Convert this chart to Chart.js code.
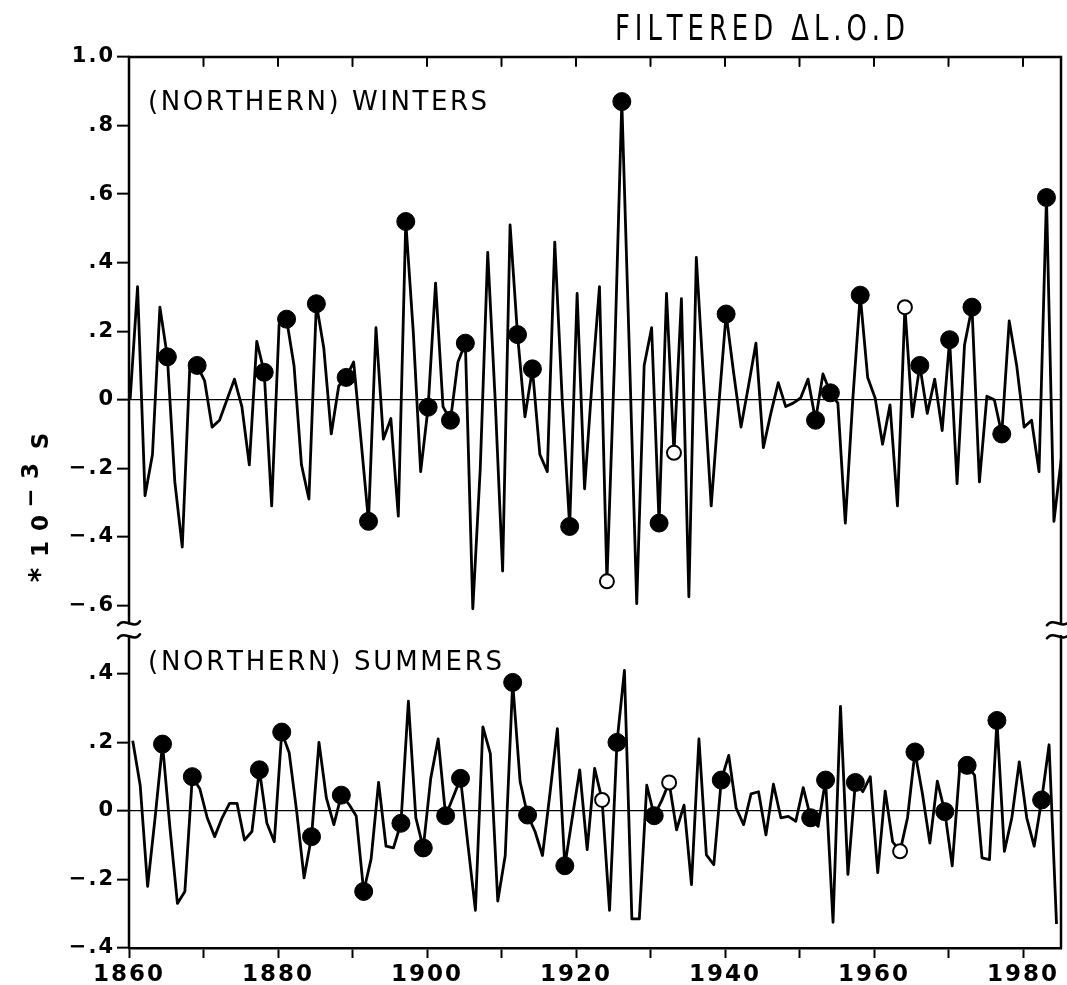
<!DOCTYPE html>
<html>
<head>
<meta charset="utf-8">
<script src="https://cdn.jsdelivr.net/npm/chart.js@4.4.1/dist/chart.umd.min.js"></script>
<style>
  html, body { margin: 0; padding: 0; background: #fff; }
  #wrap { width: 1067px; height: 985px; }
</style>
</head>
<body>
<div id="wrap"><canvas id="chart_filteredLod"></canvas></div>
<script>
// filtered delta L.O.D, units of 1e-3 s, one value per year
const firstYear = 1860;

const winterValues = [
  0.0, 0.33, -0.28, -0.16, 0.27, 0.125, -0.24, -0.43, 0.09, 0.10,
  0.055, -0.08, -0.06, 0.0, 0.06, -0.02, -0.19, 0.17, 0.08, -0.31,
  0.22, 0.235, 0.1, -0.19, -0.29, 0.28, 0.15, -0.1, 0.04, 0.065,
  0.11, -0.12, -0.355, 0.21, -0.115, -0.055, -0.34, 0.52, 0.2, -0.21,
  -0.022, 0.34, -0.02, -0.06, 0.11, 0.165, -0.61, -0.2, 0.43, 0.0,
  -0.5, 0.51, 0.19, -0.05, 0.09, -0.16, -0.21, 0.46, 0.0, -0.37,
  0.31, -0.26, 0.05, 0.33, -0.53, 0.1, 0.87, 0.15, -0.595, 0.1,
  0.21, -0.36, 0.31, -0.155, 0.295, -0.575, 0.415, 0.046, -0.31, -0.02,
  0.25, 0.08, -0.08, 0.04, 0.165, -0.14, -0.04, 0.05, -0.02, -0.01,
  0.005, 0.06, -0.06, 0.075, 0.02, -0.01, -0.36, 0.0, 0.305, 0.065,
  0.005, -0.13, -0.015, -0.31, 0.27, -0.05, 0.1, -0.04, 0.06, -0.09,
  0.175, -0.245, 0.16, 0.27, -0.24, 0.01, 0.0, -0.1, 0.23, 0.1,
  -0.08, -0.06, -0.21, 0.59, -0.355, -0.17
];

const summerValues = [
  0.205, 0.075, -0.22, -0.02, 0.195, -0.05, -0.27, -0.235, 0.10, 0.065,
  -0.02, -0.075, -0.02, 0.022, 0.022, -0.085, -0.06, 0.12, -0.035, -0.09,
  0.23, 0.17, 0.0, -0.195, -0.075, 0.2, 0.037, -0.04, 0.046, 0.02,
  -0.015, -0.235, -0.14, 0.083, -0.103, -0.108, -0.036, 0.32, -0.02, -0.108,
  0.095, 0.21, -0.014, 0.04, 0.095, -0.1, -0.29, 0.245, 0.167, -0.263,
  -0.13, 0.375, 0.085, -0.012, -0.06, -0.13, 0.05, 0.24, -0.16, -0.02,
  0.12, -0.113, 0.124, 0.032, -0.29, 0.2, 0.41, -0.315, -0.315, 0.075,
  -0.014, 0.03, 0.083, -0.055, 0.017, -0.215, 0.21, -0.128, -0.157, 0.09,
  0.162, 0.008, -0.04, 0.05, 0.056, -0.07, 0.078, -0.02, -0.016, -0.03,
  0.068, -0.02, -0.045, 0.09, -0.325, 0.305, -0.185, 0.083, 0.056, 0.1,
  -0.18, 0.058, -0.09, -0.118, -0.02, 0.172, 0.05, -0.094, 0.087, -0.002,
  -0.16, 0.124, 0.133, 0.104, -0.137, -0.142, 0.264, -0.118, -0.02, 0.143,
  -0.02, -0.103, 0.032, 0.193, -0.33
];

const winterFilled = [1865, 1869, 1878, 1881, 1885, 1889, 1892, 1897, 1900, 1903, 1905, 1912, 1914,
  1919, 1926, 1931, 1940, 1952, 1954, 1958, 1966, 1970, 1973, 1977, 1983];
const winterOpen = [1924, 1933, 1964];
const summerFilled = [1864, 1868, 1877, 1880, 1884, 1888, 1891, 1896, 1899, 1902, 1904, 1911, 1913,
  1918, 1925, 1930, 1939, 1951, 1953, 1957, 1965, 1969, 1972, 1976, 1982];
const summerOpen = [1923, 1932, 1963];

const xLabelYears = [1860, 1880, 1900, 1920, 1940, 1960, 1980];

// both panels share one y scale: winters are lifted by PANEL_SHIFT, the break sits at BREAK_AT
const PANEL_SHIFT = 1.2;
const BREAK_AT = 0.53;
const WINTER_X_OFFSET = 0.15;
const SUMMER_X_OFFSET = 0.5;

function yLabel(v) {
  let t = v > BREAK_AT ? v - PANEL_SHIFT : v;
  t = Math.round(t * 10) / 10;
  if (t === 0) return '0';
  let s = Math.abs(t).toFixed(1);
  if (Math.abs(t) < 1) s = s.replace(/^0/, '');
  return (t < 0 ? '\u2212' : '') + s;
}

function isZeroLine(v) {
  return Math.abs(v) < 1e-6 || Math.abs(v - PANEL_SHIFT) < 1e-6;
}

function markerRadius(filled, open) {
  return ctx => {
    const yr = firstYear + ctx.dataIndex;
    if (filled.includes(yr)) return 9;
    if (open.includes(yr)) return 7;
    return 0;
  };
}
function markerFill(open) {
  return ctx => open.includes(firstYear + ctx.dataIndex) ? '#fff' : '#000';
}
function markerBorder(open) {
  return ctx => open.includes(firstYear + ctx.dataIndex) ? 2 : 1;
}

function drawSpaced(ctx, text, x, y, width, font) {
  ctx.font = font;
  const chars = [...text];
  const ws = chars.map(c => ctx.measureText(c).width);
  const natural = ws.reduce((a, b) => a + b, 0);
  const gap = (width - natural) / (chars.length - 1);
  let cx = x;
  chars.forEach((c, i) => { ctx.fillText(c, cx, y); cx += ws[i] + gap; });
}

const decorPlugin = {
  id: 'lodDecor',
  beforeDraw: (chart) => {
    const ctx = chart.ctx;
    ctx.save();
    ctx.fillStyle = '#fff';
    ctx.fillRect(0, 0, chart.width, chart.height);
    ctx.restore();
    ctx.letterSpacing = '2px';
  },
  afterDraw: (chart) => {
    const ctx = chart.ctx;
    ctx.letterSpacing = '0px';
    const a = chart.chartArea;
    const x = chart.scales.x;
    const y = chart.scales.y;
    const yb = y.getPixelForValue(BREAK_AT);
    ctx.save();
    ctx.strokeStyle = '#000';
    ctx.fillStyle = '#000';
    ctx.lineWidth = 2.5;
    ctx.lineCap = 'round';

    // left axis and right frame, both broken at the panel gap
    [[a.left, 0], [a.right, -3]].forEach(([px, shift]) => {
      ctx.beginPath();
      ctx.moveTo(px, a.top); ctx.lineTo(px, yb - 6);
      ctx.moveTo(px, yb + 7); ctx.lineTo(px, a.bottom);
      ctx.stroke();
      [yb - 6, yb + 7].forEach(ty => {
        const cx = px + shift;
        ctx.beginPath();
        ctx.moveTo(cx - 11, ty + 2);
        ctx.bezierCurveTo(cx - 5, ty - 7, cx + 5, ty + 7, cx + 11, ty - 2);
        ctx.stroke();
      });
    });

    // top frame with inward ticks
    ctx.beginPath();
    ctx.moveTo(a.left, a.top); ctx.lineTo(a.right, a.top);
    ctx.stroke();
    ctx.lineWidth = 2;
    x.ticks.forEach(t => {
      const px = x.getPixelForValue(t.value);
      if (px > a.left + 2 && px < a.right - 2) {
        ctx.beginPath();
        ctx.moveTo(px, a.top); ctx.lineTo(px, a.top + 9);
        ctx.stroke();
      }
    });

    // title (narrow lettering) and panel labels
    ctx.textAlign = 'left';
    ctx.textBaseline = 'alphabetic';
    ctx.save();
    ctx.translate(615, 40);
    ctx.scale(0.72, 1);
    drawSpaced(ctx, 'FILTERED \u0394L.O.D', 0, 0, 290 / 0.72, "36px 'DejaVu Sans', sans-serif");
    ctx.restore();
    drawSpaced(ctx, '(NORTHERN) WINTERS', 148, 110, 339, "26px 'DejaVu Sans', sans-serif");
    drawSpaced(ctx, '(NORTHERN) SUMMERS', 148, 670, 354, "26px 'DejaVu Sans', sans-serif");

    // rotated unit label: *10^-3 S
    const unitChars = [
      ['*', 575, 49, "bold 28px 'DejaVu Sans', sans-serif"],
      ['1', 549, 48, "bold 23px 'DejaVu Sans', sans-serif"],
      ['0', 523, 48, "bold 23px 'DejaVu Sans', sans-serif"],
      ['\u2212', 498, 38, "bold 23px 'DejaVu Sans', sans-serif"],
      ['3', 471, 38, "bold 23px 'DejaVu Sans', sans-serif"],
      ['S', 441, 48, "bold 23px 'DejaVu Sans', sans-serif"]
    ];
    ctx.textAlign = 'center';
    unitChars.forEach(([ch, cy, bx, font]) => {
      ctx.save();
      ctx.font = font;
      ctx.translate(bx, cy);
      ctx.rotate(-Math.PI / 2);
      ctx.fillText(ch, 0, 0);
      ctx.restore();
    });
    ctx.restore();
  }
};

const chart_filteredLod = new Chart(document.getElementById('chart_filteredLod'), {
  type: 'line',
  data: {
    datasets: [
      {
        label: 'Winters',
        data: winterValues.map((v, i) => ({x: firstYear + i + WINTER_X_OFFSET, y: v + PANEL_SHIFT})),
        borderColor: '#000',
        borderWidth: 2.8,
        borderJoinStyle: 'round',
        tension: 0,
        pointRadius: markerRadius(winterFilled, winterOpen),
        pointHoverRadius: markerRadius(winterFilled, winterOpen),
        pointBackgroundColor: markerFill(winterOpen),
        pointBorderColor: '#000',
        pointBorderWidth: markerBorder(winterOpen)
      },
      {
        label: 'Summers',
        data: summerValues.map((v, i) => ({x: firstYear + i + SUMMER_X_OFFSET, y: v})),
        borderColor: '#000',
        borderWidth: 2.8,
        borderJoinStyle: 'round',
        tension: 0,
        pointRadius: markerRadius(summerFilled, summerOpen),
        pointHoverRadius: markerRadius(summerFilled, summerOpen),
        pointBackgroundColor: markerFill(summerOpen),
        pointBorderColor: '#000',
        pointBorderWidth: markerBorder(summerOpen)
      }
    ]
  },
  options: {
    animation: false,
    responsive: true,
    maintainAspectRatio: false,
    events: [],
    layout: { padding: { left: 0, right: 6, top: 57, bottom: 0 } },
    plugins: {
      legend: { display: false },
      tooltip: { enabled: false },
      title: { display: false }
    },
    scales: {
      x: {
        type: 'linear',
        min: 1860,
        max: 1985.1,
        afterFit: (s) => { s.height = 37; },
        ticks: {
          stepSize: 10,
          includeBounds: false,
          autoSkip: false,
          maxRotation: 0,
          padding: 3,
          color: '#000',
          font: { family: "'DejaVu Sans', sans-serif", size: 23, weight: 'bold' },
          callback: (value) => xLabelYears.includes(value) ? String(value) : ''
        },
        grid: { drawOnChartArea: false, tickLength: 10, tickWidth: 2, tickColor: '#000' },
        border: { display: true, color: '#000', width: 2.5 }
      },
      y: {
        type: 'linear',
        min: -0.4,
        max: 2.2,
        afterFit: (s) => { s.width = 129; },
        ticks: {
          stepSize: 0.2,
          includeBounds: false,
          autoSkip: false,
          padding: 2,
          color: '#000',
          font: { family: "'DejaVu Sans', sans-serif", size: 21, weight: 'bold' },
          callback: (value) => yLabel(value)
        },
        grid: {
          drawOnChartArea: true,
          color: (ctx) => (ctx.tick && isZeroLine(ctx.tick.value)) ? '#000' : 'rgba(0,0,0,0)',
          lineWidth: 1.3,
          tickLength: 12,
          tickWidth: 2,
          tickColor: '#000'
        },
        border: { display: false }
      }
    }
  },
  plugins: [decorPlugin]
});
</script>
</body>
</html>
